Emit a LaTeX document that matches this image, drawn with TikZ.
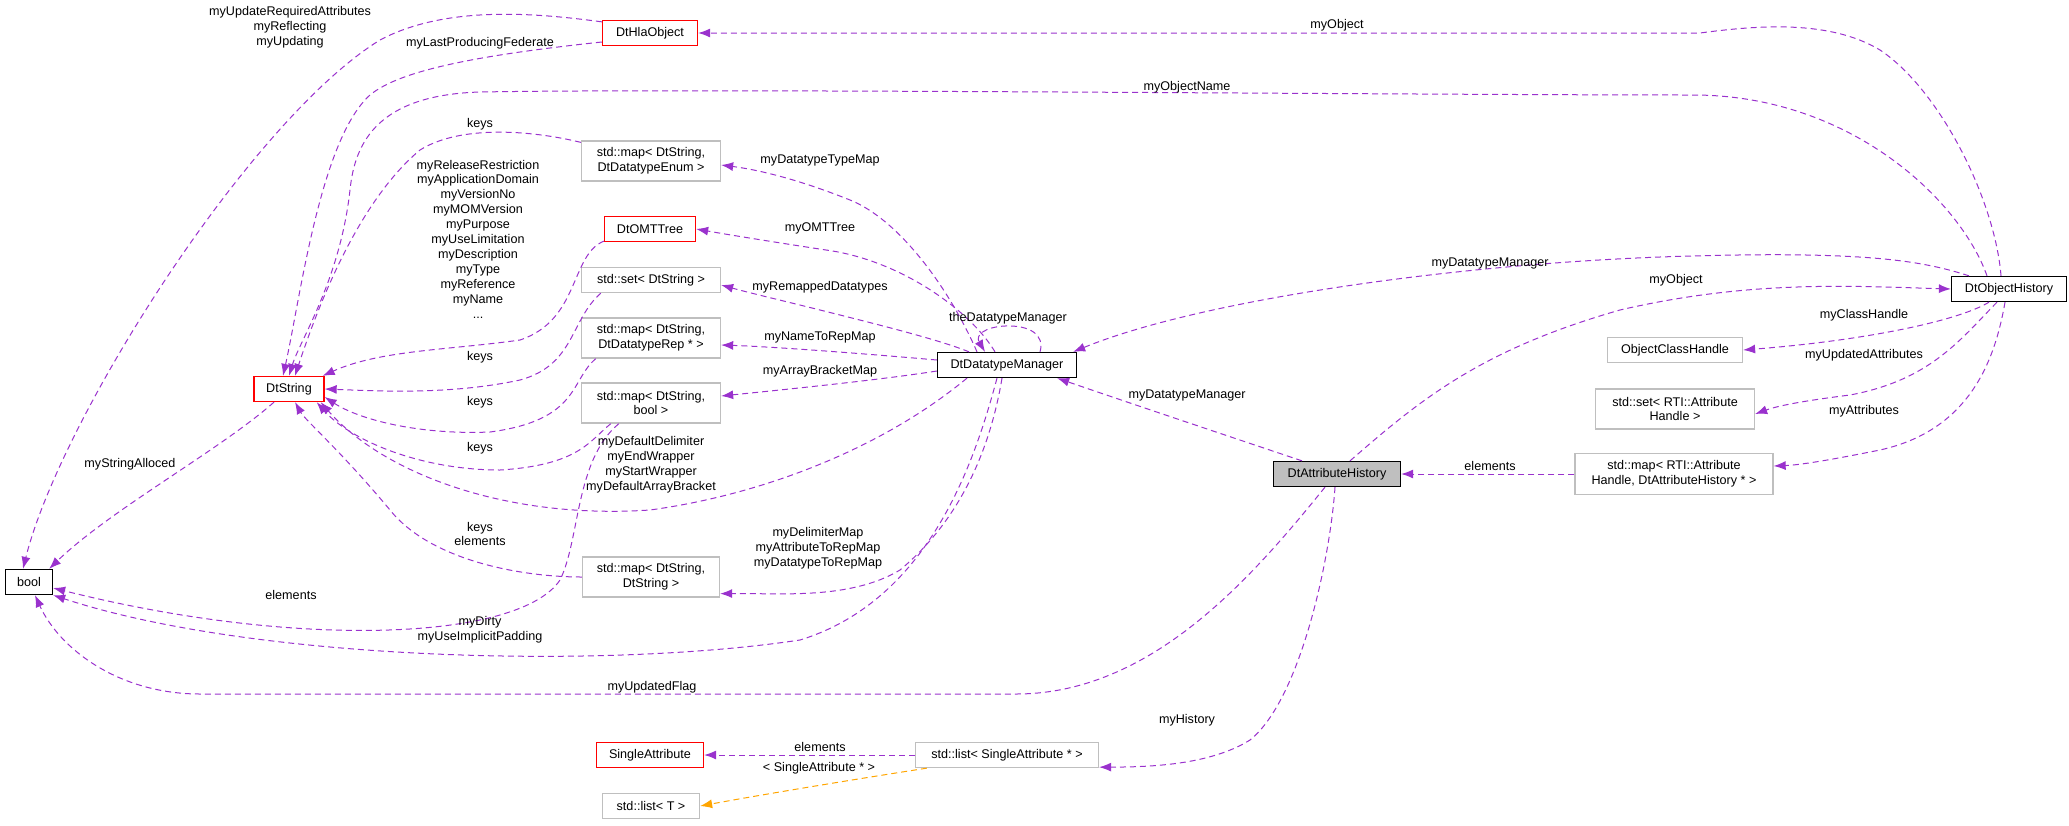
\documentclass[tikz,border=0pt]{standalone}
\usepackage{fontspec}
\setmainfont{Liberation Sans}
\usetikzlibrary{arrows.meta}
\definecolor{edgec}{HTML}{9A32CD}
\definecolor{grayb}{HTML}{BFBFBF}
\definecolor{redb}{HTML}{FF0000}
\definecolor{orangec}{HTML}{FFA500}
\begin{document}
\begin{tikzpicture}[x=1pt,y=-1pt,
  every node/.style={font=\fontsize{12.6}{14.9}\selectfont, inner sep=0pt, align=center},
  box/.style={draw, rectangle, line width=1.3pt, minimum height=25pt},
  rbox/.style={box, draw=redb},
  gbox/.style={box, draw=grayb},
  kbox/.style={box, draw=black},
  e/.style={draw=edgec, line width=1pt, dash pattern=on 6pt off 4pt, -{Latex[length=12pt,width=9pt]}},
  eo/.style={e, draw=orangec},
  lbl/.style={fill=none}]
\useasboundingbox (0,0) rectangle (2069,825);
% nodes
\node[rbox, minimum width=95pt] (hla) at (650,33) {DtHlaObject};
\node[rbox, minimum width=70pt] (dtstring) at (289,389) {DtString};
\node[kbox, minimum width=47pt] (bool) at (29,582) {bool};
\node[gbox, minimum width=139pt, minimum height=40pt] (menum) at (651,161) {std::map< DtString,\\DtDatatypeEnum >};
\node[rbox, minimum width=91pt] (omt) at (650,229) {DtOMTTree};
\node[gbox, minimum width=139pt] (set) at (651,280) {std::set< DtString >};
\node[gbox, minimum width=139pt, minimum height=40pt] (mrep) at (651,338) {std::map< DtString,\\DtDatatypeRep * >};
\node[gbox, minimum width=139pt, minimum height=40pt] (mbool) at (651,403) {std::map< DtString,\\bool >};
\node[gbox, minimum width=137pt, minimum height=40pt] (mss) at (651,577) {std::map< DtString,\\DtString >};
\node[kbox, minimum width=139pt] (mgr) at (1007,365) {DtDatatypeManager};
\node[kbox, minimum width=115pt] (objh) at (2009,289) {DtObjectHistory};
\node[gbox, minimum width=135pt] (och) at (1675,350) {ObjectClassHandle};
\node[gbox, minimum width=159pt, minimum height=40pt] (setrti) at (1675,409) {std::set< RTI::Attribute\\Handle >};
\node[kbox, fill=grayb, minimum width=127pt] (attr) at (1337,474) {DtAttributeHistory};
\node[gbox, minimum width=198pt, minimum height=41pt] (maprti) at (1674,474) {std::map< RTI::Attribute\\Handle, DtAttributeHistory * >};
\node[rbox, minimum width=107pt] (single) at (650,755) {SingleAttribute};
\node[gbox, minimum width=183pt] (listsa) at (1007,755) {std::list< SingleAttribute * >};
\node[gbox, minimum width=97pt] (listt) at (651,806) {std::list< T >};
% edges
\draw[e] ([yshift=-2pt]hla.north west) .. controls (536,13) and (446,5) .. (380,40) .. controls (250,120) and (60,420) .. ([xshift=-6pt]bool.north);
\node[lbl] (l1) at (290,27) {myUpdateRequiredAttributes\\myReflecting\\myUpdating};
\draw[e] ([yshift=-9pt]hla.west) .. controls (480,55) and (400,70) .. (370,95) .. controls (320,140) and (300,300) .. ([xshift=-6pt]dtstring.north);
\node[lbl] (l2) at (480,43) {myLastProducingFederate};
\draw[e] ([xshift=-22pt]objh.north) .. controls (1960,200) and (1850,95) .. (1693,95) .. controls (1400,95) and (700,88) .. (480,92) .. controls (380,95) and (355,140) .. (350,190) .. controls (340,280) and (300,340) .. (dtstring.north);
\node[lbl] (l3) at (1187,87) {myObjectName};
\draw[e] ([yshift=-2pt]menum.north west) .. controls (530,130) and (460,125) .. (420,150) .. controls (360,200) and (320,300) .. ([xshift=6pt]dtstring.north);
\node[lbl] (l4) at (480,124) {keys};
\draw[e] ([yshift=1pt]omt.south west) .. controls (570,255) and (580,320) .. (520,340) .. controls (450,350) and (380,350) .. ([xshift=-2pt]dtstring.north east);
\node[lbl] (l5) at (478,239) {myReleaseRestriction\\myApplicationDomain\\myVersionNo\\myMOMVersion\\myPurpose\\myUseLimitation\\myDescription\\myType\\myReference\\myName\\...};
\draw[e] ([xshift=20pt]set.south west) .. controls (570,320) and (575,365) .. (520,380) .. controls (450,395) and (380,391) .. (dtstring.east);
\node[lbl] (l6) at (480,357) {keys};
\draw[e] ([xshift=15pt]mrep.south west) .. controls (570,380) and (580,420) .. (490,432) .. controls (420,435) and (360,420) .. ([yshift=-8pt]dtstring.east);
\node[lbl] (l7) at (480,402) {keys};
\draw[e] ([xshift=30pt]mbool.south west) .. controls (590,440) and (580,465) .. (500,470) .. controls (420,470) and (350,440) .. ([xshift=-8pt]dtstring.south east);
\node[lbl] (l8) at (480,448) {keys};
\draw[e] (mss.west) .. controls (520,577) and (430,560) .. (390,510) .. controls (340,450) and (305,420) .. ([xshift=6pt]dtstring.south);
\node[lbl] (l9) at (480,534) {keys\\elements};
\draw[e] ([xshift=38pt]mbool.south west) .. controls (575,460) and (580,540) .. (560,580) .. controls (520,640) and (300,650) .. ([yshift=-6pt]bool.east);
\node[lbl] (l10) at (291,595) {elements};
\draw[e] ([xshift=-15pt]dtstring.south) .. controls (220,450) and (110,510) .. ([xshift=-4pt]bool.north east);
\node[lbl] (l11) at (130,464) {myStringAlloced};
\draw[e] ([xshift=-40pt]mgr.south) .. controls (880,450) and (760,495) .. (650,510) .. controls (500,520) and (380,470) .. ([xshift=-4pt]dtstring.south east);
\node[lbl] (l12) at (651,465) {myDefaultDelimiter\\myEndWrapper\\myStartWrapper\\myDefaultArrayBracket};
\draw[e] ([xshift=-10pt]mgr.south) .. controls (975,460) and (930,600) .. (800,640) .. controls (600,670) and (250,660) .. (bool.south east);
\node[lbl] (l13) at (480,630) {myDirty\\myUseImplicitPadding};
\draw[e] ([xshift=-12pt]attr.south) .. controls (1250,580) and (1150,694) .. (1016,694) -- (200,694) .. controls (120,694) and (60,650) .. ([xshift=6pt]bool.south);
\node[lbl] (l14) at (652,687) {myUpdatedFlag};
\draw[e] ([xshift=-5pt]mgr.south) .. controls (990,450) and (960,520) .. (900,570) .. controls (850,600) and (780,593) .. ([yshift=4pt]mss.south east);
\node[lbl] (l15) at (818,548) {myDelimiterMap\\myAttributeToRepMap\\myDatatypeToRepMap};
\draw[e] ([xshift=-30pt]mgr.north) .. controls (950,290) and (900,220) .. (850,200) .. controls (800,180) and (760,170) .. ([yshift=-4pt]menum.east);
\node[lbl] (l16) at (820,160) {myDatatypeTypeMap};
\draw[e] ([xshift=-12pt]mgr.north) .. controls (970,310) and (900,260) .. (826,250) .. controls (780,243) and (730,235) .. (omt.east);
\node[lbl] (l17) at (820,228) {myOMTTree};
\draw[e] ([xshift=-38pt]mgr.north) .. controls (940,340) and (880,325) .. (820,310) .. controls (780,300) and (750,293) .. ([yshift=-5pt]set.east);
\node[lbl] (l18) at (820,287) {myRemappedDatatypes};
\draw[e] ([yshift=5pt]mgr.west) .. controls (880,355) and (780,347) .. ([yshift=-7pt]mrep.east);
\node[lbl] (l19) at (820,337) {myNameToRepMap};
\draw[e] ([yshift=-6pt]mgr.west) .. controls (880,380) and (780,390) .. ([yshift=7pt]mbool.east);
\node[lbl] (l20) at (820,371) {myArrayBracketMap};
\draw[e] ([xshift=33pt]mgr.north) .. controls (1045,335) and (1030,325) .. (1005,326) .. controls (985,327) and (975,335) .. ([xshift=-22pt]mgr.north);
\node[lbl] (l21) at (1008,318) {theDatatypeManager};
\draw[e] ([xshift=-40pt]objh.north) .. controls (1920,260) and (1860,250) .. (1660,257) .. controls (1450,265) and (1200,300) .. ([xshift=-4pt]mgr.north east);
\node[lbl] (l22) at (1490,263) {myDatatypeManager};
\draw[e] ([xshift=-35pt]attr.north) .. controls (1240,440) and (1150,410) .. ([xshift=-20pt]mgr.south east);
\node[lbl] (l23) at (1187,395) {myDatatypeManager};
\draw[e] ([xshift=13pt]attr.north) .. controls (1420,400) and (1480,350) .. (1620,310) .. controls (1750,280) and (1850,286) .. (objh.west);
\node[lbl] (l24) at (1676,280) {myObject};
\draw[e] ([xshift=-8pt]objh.north) .. controls (1995,200) and (1940,90) .. (1880,50) .. controls (1830,20) and (1760,25) .. (1700,33) -- (hla.east);
\node[lbl] (l25) at (1337,25) {myObject};
\draw[e] ([xshift=-20pt]objh.south) .. controls (1960,320) and (1870,340) .. (och.east);
\node[lbl] (l27) at (1864,315) {myClassHandle};
\draw[e] ([xshift=-12pt]objh.south) .. controls (1960,340) and (1930,380) .. (1850,395) .. controls (1810,400) and (1780,405) .. ([yshift=-5pt]setrti.east);
\node[lbl] (l28) at (1864,355) {myUpdatedAttributes};
\draw[e] ([xshift=-4pt]objh.south) .. controls (1995,360) and (1970,430) .. (1880,450) .. controls (1830,460) and (1800,465) .. ([yshift=8pt]maprti.east);
\node[lbl] (l29) at (1864,411) {myAttributes};
\draw[e] (maprti.west) -- (attr.east);
\node[lbl] (l30) at (1490,466) {elements};
\draw[e] ([xshift=-2pt]attr.south) .. controls (1330,560) and (1300,700) .. (1250,740) .. controls (1210,765) and (1150,767) .. ([yshift=1pt]listsa.south east);
\node[lbl] (l31) at (1187,720) {myHistory};
\draw[e] (listsa.west) -- (single.east);
\node[lbl] (l32) at (820,747) {elements};
\draw[eo] ([xshift=12pt]listsa.south west) .. controls (850,780) and (760,795) .. (listt.east);
\node[lbl] (l33) at (819,768) {< SingleAttribute * >};
\end{tikzpicture}
\end{document}
